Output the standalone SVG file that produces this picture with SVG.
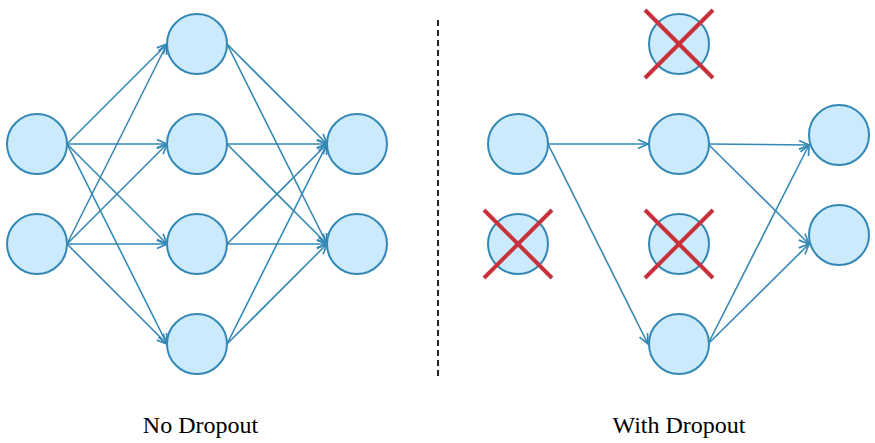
<svg xmlns="http://www.w3.org/2000/svg" width="875" height="443" viewBox="0 0 875 443">
<defs>
<marker id="arr" viewBox="0 0 12 12" refX="11" refY="6" markerWidth="12" markerHeight="12" markerUnits="userSpaceOnUse" orient="auto">
<path d="M1,1.5 L11,6 L1,10.5" fill="none" stroke="#3388b5" stroke-width="1.7"/>
</marker>
<style>
.n{fill:#cbeafb;stroke:#3388b5;stroke-width:2}
.e{stroke:#3388b5;stroke-width:1.6;fill:none;marker-end:url(#arr)}
.x{stroke:#c8303c;stroke-width:4;stroke-linecap:butt}
.t{font-family:"Liberation Serif","Times New Roman",serif;font-size:24px;fill:#000;text-anchor:middle}
</style>
</defs>
<rect width="875" height="443" fill="#fff"/>
<g id="connectors">
<line class="e" x1="67" y1="144" x2="167" y2="44"/>
<line class="e" x1="67" y1="144" x2="167" y2="144"/>
<line class="e" x1="67" y1="144" x2="167" y2="244"/>
<line class="e" x1="67" y1="144" x2="167" y2="344"/>
<line class="e" x1="67" y1="244" x2="167" y2="44"/>
<line class="e" x1="67" y1="244" x2="167" y2="144"/>
<line class="e" x1="67" y1="244" x2="167" y2="244"/>
<line class="e" x1="67" y1="244" x2="167" y2="344"/>
<line class="e" x1="227" y1="44" x2="327" y2="144"/>
<line class="e" x1="227" y1="44" x2="327" y2="244"/>
<line class="e" x1="227" y1="144" x2="327" y2="144"/>
<line class="e" x1="227" y1="144" x2="327" y2="244"/>
<line class="e" x1="227" y1="244" x2="327" y2="144"/>
<line class="e" x1="227" y1="244" x2="327" y2="244"/>
<line class="e" x1="227" y1="344" x2="327" y2="144"/>
<line class="e" x1="227" y1="344" x2="327" y2="244"/>
<line class="e" x1="548" y1="144" x2="648" y2="144"/>
<line class="e" x1="548" y1="144" x2="648" y2="344"/>
<line class="e" x1="708" y1="144" x2="809" y2="145"/>
<line class="e" x1="708" y1="144" x2="809" y2="244"/>
<line class="e" x1="708" y1="344" x2="809" y2="145"/>
<line class="e" x1="708" y1="344" x2="809" y2="244"/>
</g>
<g id="l-in1"><circle class="n" cx="37" cy="144" r="30"/></g>
<g id="l-in2"><circle class="n" cx="37" cy="244" r="30"/></g>
<g id="l-h1"><circle class="n" cx="197" cy="44" r="30"/></g>
<g id="l-h2"><circle class="n" cx="197" cy="144" r="30"/></g>
<g id="l-h3"><circle class="n" cx="197" cy="244" r="30"/></g>
<g id="l-h4"><circle class="n" cx="197" cy="344" r="30"/></g>
<g id="l-o1"><circle class="n" cx="357" cy="144" r="30"/></g>
<g id="l-o2"><circle class="n" cx="357" cy="244" r="30"/></g>
<line x1="438" y1="20" x2="438" y2="376" stroke="#222" stroke-width="2" stroke-dasharray="6,4"/>
<g id="r-in1"><circle class="n" cx="518" cy="144" r="30"/></g>
<g id="r-in2"><circle class="n" cx="518" cy="244" r="30"/><line class="x" x1="484" y1="210" x2="552" y2="278"/><line class="x" x1="552" y1="210" x2="484" y2="278"/></g>
<g id="r-h1"><circle class="n" cx="679" cy="44" r="30"/><line class="x" x1="645" y1="10" x2="713" y2="78"/><line class="x" x1="713" y1="10" x2="645" y2="78"/></g>
<g id="r-h2"><circle class="n" cx="679" cy="144" r="30"/></g>
<g id="r-h3"><circle class="n" cx="679" cy="244" r="30"/><line class="x" x1="645" y1="210" x2="713" y2="278"/><line class="x" x1="713" y1="210" x2="645" y2="278"/></g>
<g id="r-h4"><circle class="n" cx="679" cy="344" r="30"/></g>
<g id="r-o1"><circle class="n" cx="839" cy="135" r="30"/></g>
<g id="r-o2"><circle class="n" cx="839" cy="235" r="30"/></g>
<text class="t" x="200.5" y="433">No Dropout</text>
<text class="t" x="679" y="433">With Dropout</text>
</svg>
